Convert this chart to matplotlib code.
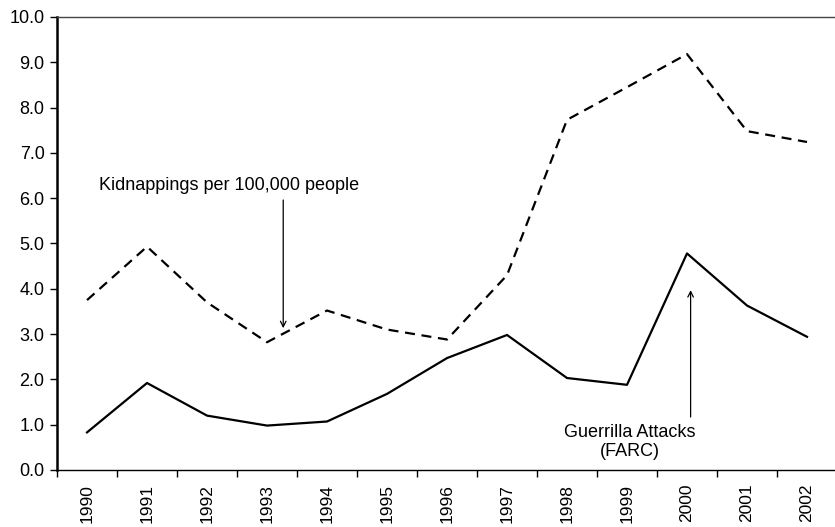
import matplotlib.pyplot as plt
import numpy as np

plt.rcParams['font.family'] = ['Liberation Sans', 'DejaVu Sans']

# Years and the two series
years = ['1990', '1991', '1992', '1993', '1994', '1995', '1996',
         '1997', '1998', '1999', '2000', '2001', '2002']
kidnappings = [3.75, 4.93, 3.7, 2.82, 3.52, 3.1, 2.88,
               4.3, 7.73, 8.45, 9.18, 7.48, 7.24]
guerrilla = [0.83, 1.92, 1.2, 0.98, 1.07, 1.68, 2.47,
             2.98, 2.03, 1.88, 4.78, 3.63, 2.94]
yticks = [0, 1, 2, 3, 4, 5, 6, 7, 8, 9, 10]

fig = plt.figure(figsize=(8.35, 5.27), dpi=100)
ax = fig.add_axes([0.0683, 0.1082, 0.9341, 0.8596])

x = np.arange(len(years))
ax.plot(x, guerrilla, color='black', linewidth=1.6, solid_joinstyle='round')
ax.plot(x, kidnappings, color='black', linewidth=1.6, dashes=(4.5, 3.0))

ax.set_xlim(-0.5, len(years) - 0.5)
ax.set_ylim(0, 10)

# category labels in the middle, tick marks on the boundaries
ax.set_xticks(x)
ax.set_xticklabels(years, rotation=90)
ax.set_xticks(np.arange(-0.5, len(years), 1), minor=True)
ax.tick_params(axis='x', which='major', length=0, pad=10, labelsize=12.5)
ax.tick_params(axis='x', which='minor', length=5, direction='out', width=1)

ax.set_yticks(yticks)
ax.set_yticklabels(['%.1f' % v for v in yticks])
ax.tick_params(axis='y', length=5, direction='out', width=1, labelsize=13, pad=4)

ax.spines['left'].set_linewidth(1.8)
ax.spines['bottom'].set_linewidth(1.0)
ax.spines['top'].set_linewidth(1.0)
ax.spines['top'].set_color('#444444')
ax.spines['right'].set_visible(False)

ax.annotate('', xy=(3.27, 3.13), xytext=(3.27, 5.96),
            arrowprops=dict(arrowstyle='->', color='black', lw=0.9,
                            shrinkA=0, shrinkB=0))
ax.text(2.37, 6.29, 'Kidnappings per 100,000 people', ha='center',
        va='center', fontsize=13)

ax.annotate('', xy=(10.06, 3.97), xytext=(10.06, 1.17),
            arrowprops=dict(arrowstyle='->', color='black', lw=0.9,
                            shrinkA=0, shrinkB=0))
ax.text(9.05, 0.62, 'Guerrilla Attacks\n(FARC)', ha='center', va='center',
        fontsize=13, linespacing=1.15)

fig.savefig('out.png', dpi=100)
